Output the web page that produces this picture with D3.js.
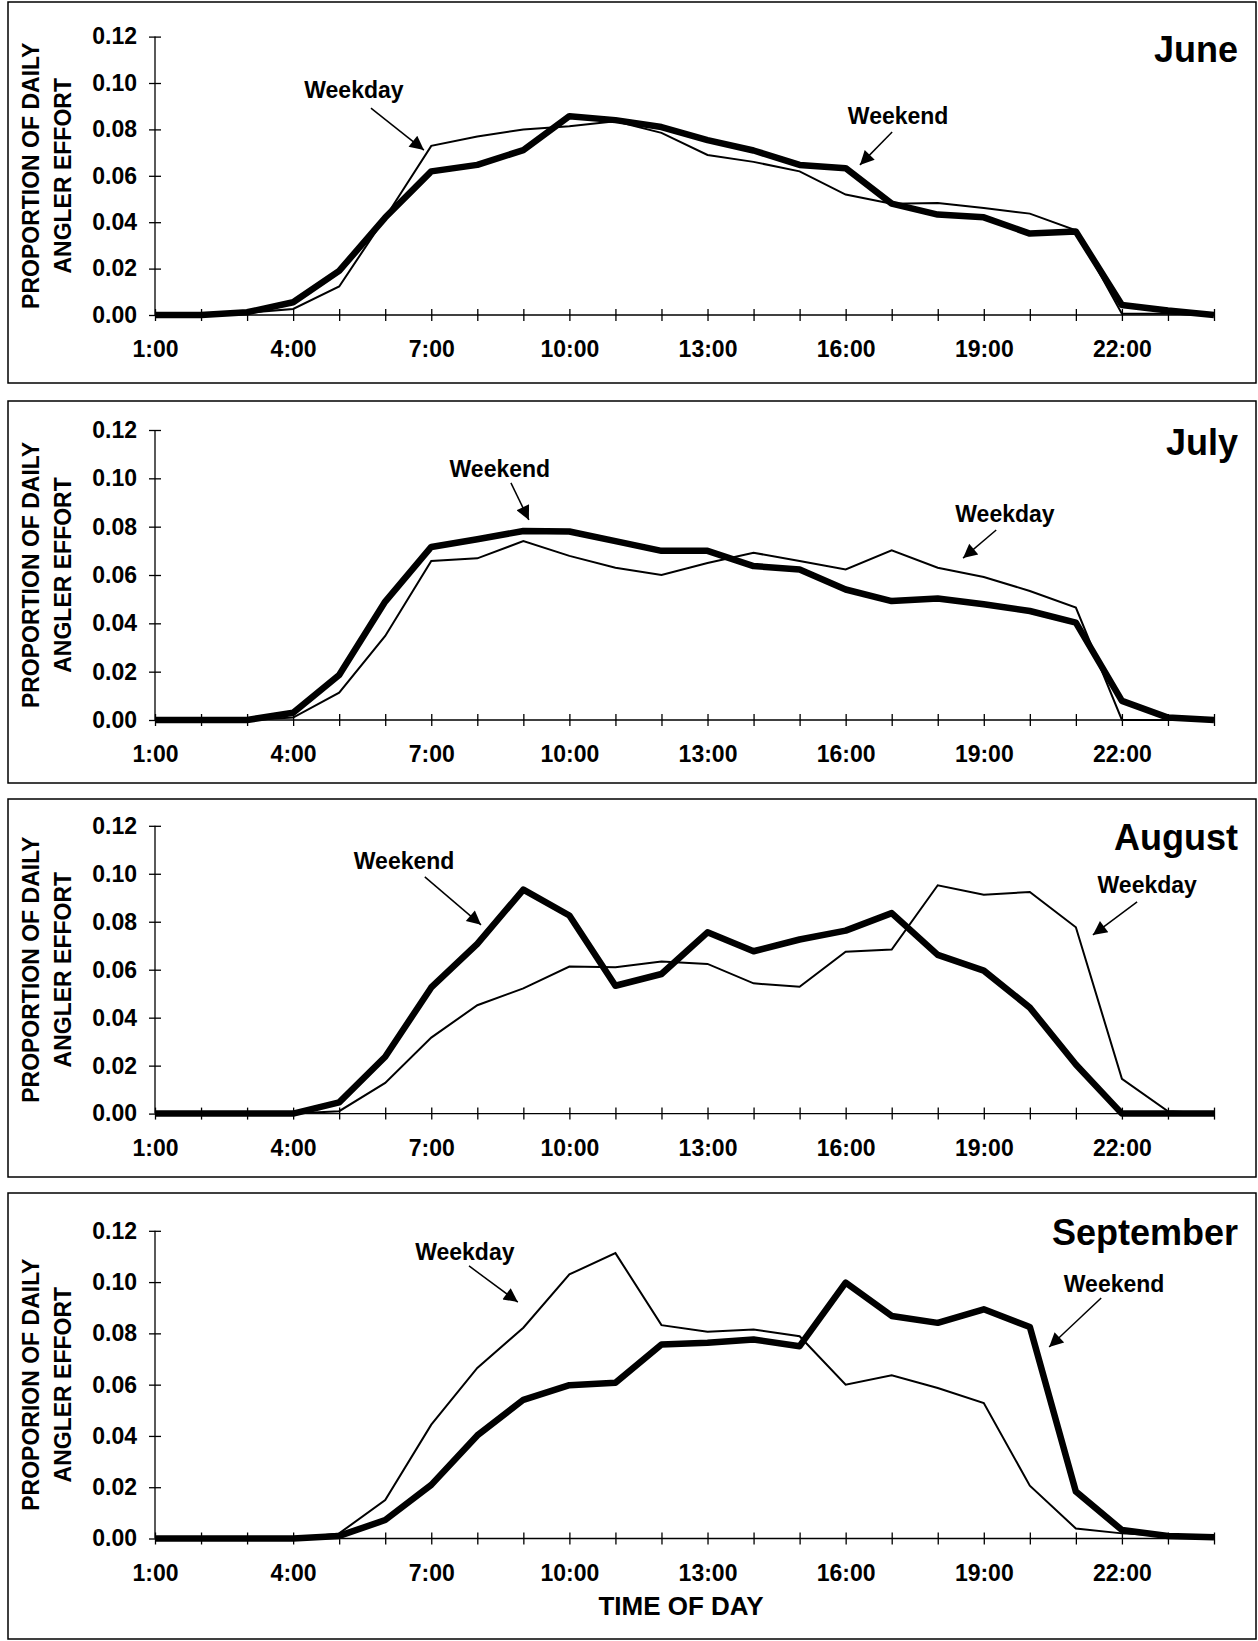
<!DOCTYPE html>
<html>
<head>
<meta charset="utf-8">
<script src="https://cdn.jsdelivr.net/npm/d3@7"></script>
<style>
	body { margin: 0; background: #fff; }
	svg { display: block; font-family: "Liberation Sans", Arial, sans-serif; }
	.tick text { font-weight: bold; }
</style>
</head>
<body>
<div class="container"></div>
<script>
var hours = d3.range(1, 25);
var yTicks = [0, 0.02, 0.04, 0.06, 0.08, 0.10, 0.12];
var months = ['June', 'July', 'August', 'September'];
var axisTitles = ['PROPORTION OF DAILY', 'PROPORTION OF DAILY', 'PROPORTION OF DAILY', 'PROPORION OF DAILY'];

var juneWeekday = [0, 0, 0.001, 0.0026, 0.0123, 0.042, 0.0729, 0.0769, 0.080, 0.0814, 0.0835, 0.0785, 0.069, 0.066, 0.0619, 0.0519, 0.048, 0.0483, 0.0461, 0.0437, 0.0365, 0.0005, 0.0005, 0];
var juneWeekend = [0, 0, 0.0012, 0.0055, 0.019, 0.042, 0.0619, 0.0647, 0.0711, 0.0857, 0.084, 0.081, 0.0754, 0.0709, 0.0647, 0.0633, 0.048, 0.0433, 0.0421, 0.0351, 0.036, 0.0043, 0.0019, 0];

var julyWeekday = [0, 0, 0, 0.001, 0.0113, 0.0348, 0.0658, 0.0669, 0.074, 0.0679, 0.063, 0.060, 0.065, 0.0692, 0.0658, 0.0623, 0.0702, 0.063, 0.0592, 0.0534, 0.0465, 0, 0, 0];
var julyWeekend = [0, 0, 0, 0.003, 0.0186, 0.049, 0.0716, 0.0748, 0.0782, 0.078, 0.074, 0.070, 0.070, 0.0637, 0.0623, 0.054, 0.0492, 0.0503, 0.0479, 0.0451, 0.0403, 0.0079, 0.001, 0];

var augustWeekday = [0, 0, 0, 0, 0.001, 0.0128, 0.0317, 0.0452, 0.0522, 0.0613, 0.061, 0.0634, 0.0624, 0.0543, 0.0529, 0.0675, 0.0684, 0.0952, 0.0913, 0.0924, 0.0777, 0.0145, 0.001, 0];
var augustWeekend = [0, 0, 0, 0, 0.0047, 0.0237, 0.0526, 0.0708, 0.0934, 0.0826, 0.0533, 0.0582, 0.0756, 0.0677, 0.0726, 0.0763, 0.0836, 0.0662, 0.0596, 0.0442, 0.0205, 0, 0, 0];

var septemberWeekday = [0, 0, 0, 0, 0.002, 0.015, 0.0444, 0.0665, 0.0822, 0.103, 0.1113, 0.0832, 0.0806, 0.0815, 0.0789, 0.060, 0.0637, 0.0587, 0.0528, 0.0206, 0.0039, 0.002, 0.001, 0];
var septemberWeekend = [0, 0, 0, 0, 0.001, 0.0072, 0.0209, 0.0402, 0.0541, 0.0598, 0.0607, 0.0757, 0.0763, 0.0776, 0.075, 0.0998, 0.0868, 0.0841, 0.0894, 0.0825, 0.0183, 0.0033, 0.001, 0.0005];

// label text position and arrow start/end, in hour / proportion units
var juneNotes = [
	{ text: 'Weekday', h: 5.32, v: 0.097, h1: 5.69, v1: 0.0892, h2: 6.84, v2: 0.0711 },
	{ text: 'Weekend', h: 17.14, v: 0.0858, h1: 17.01, v1: 0.0789, h2: 16.31, v2: 0.0647 }
];
var julyNotes = [
	{ text: 'Weekend', h: 8.49, v: 0.1039, h1: 8.73, v1: 0.0981, h2: 9.12, v2: 0.0828 },
	{ text: 'Weekday', h: 19.46, v: 0.0852, h1: 19.27, v1: 0.0786, h2: 18.55, v2: 0.067 }
];
var augustNotes = [
	{ text: 'Weekend', h: 6.41, v: 0.1053, h1: 6.86, v1: 0.0987, h2: 8.08, v2: 0.0787 },
	{ text: 'Weekday', h: 22.55, v: 0.0953, h1: 22.33, v1: 0.0883, h2: 21.37, v2: 0.0745 }
];
var septemberNotes = [
	{ text: 'Weekday', h: 7.73, v: 0.1117, h1: 7.82, v1: 0.1063, h2: 8.88, v2: 0.0922 },
	{ text: 'Weekend', h: 21.83, v: 0.0993, h1: 21.55, v1: 0.0938, h2: 20.42, v2: 0.0747 }
];

var panels = [
	{ month: months[0], weekday: juneWeekday, weekend: juneWeekend, notes: juneNotes, axisTitle: axisTitles[0],
		frameTop: 2, frameBottom: 383, yTop: 36.6, yBottom: 315, titleY: 49 },
	{ month: months[1], weekday: julyWeekday, weekend: julyWeekend, notes: julyNotes, axisTitle: axisTitles[1],
		frameTop: 401, frameBottom: 783, yTop: 430, yBottom: 720, titleY: 442 },
	{ month: months[2], weekday: augustWeekday, weekend: augustWeekend, notes: augustNotes, axisTitle: axisTitles[2],
		frameTop: 799, frameBottom: 1177, yTop: 825.8, yBottom: 1113.6, titleY: 837 },
	{ month: months[3], weekday: septemberWeekday, weekend: septemberWeekend, notes: septemberNotes, axisTitle: axisTitles[3],
		frameTop: 1193, frameBottom: 1639, yTop: 1230.8, yBottom: 1538.5, titleY: 1232 }
];

var svg = d3.select('.container')
	.append('svg')
	.attr('width', 1258)
	.attr('height', 1641);

svg.append('defs')
	.append('marker')
	.attr('id', 'arrow')
	.attr('viewBox', '0 0 10 10')
	.attr('refX', 10)
	.attr('refY', 5)
	.attr('markerUnits', 'userSpaceOnUse')
	.attr('markerWidth', 17)
	.attr('markerHeight', 14)
	.attr('orient', 'auto')
	.append('path')
	.attr('d', 'M0,0L10,5L0,10Z')
	.attr('fill', '#000');

var x = d3.scalePoint()
	.domain(hours)
	.range([155, 1214]);

panels.forEach(function(p) {
	var g = svg.append('g');

	g.append('rect')
		.attr('x', 8)
		.attr('y', p.frameTop)
		.attr('width', 1248)
		.attr('height', p.frameBottom - p.frameTop)
		.attr('fill', 'none')
		.attr('stroke', '#000')
		.attr('stroke-width', 1.5);

	var y = d3.scaleLinear()
		.domain([0, 0.12])
		.range([p.yBottom, p.yTop]);

	var xAxis = g.append('g')
		.attr('transform', 'translate(0,' + p.yBottom + ')')
		.call(d3.axisBottom(x)
			.tickValues(hours)
			.tickSize(6)
			.tickPadding(20)
			.tickFormat(function(h) { return (h - 1) % 3 === 0 ? h + ':00' : ''; }));
	xAxis.select('.domain').attr('d', 'M155,0H1214');
	xAxis.selectAll('.tick line').attr('y1', -6);
	xAxis.selectAll('.tick text').attr('font-size', 23).attr('fill', '#000');

	var yAxis = g.append('g')
		.attr('transform', 'translate(155,0)')
		.call(d3.axisLeft(y)
			.tickValues(yTicks)
			.tickSize(6)
			.tickPadding(12)
			.tickFormat(d3.format('.2f')));
	yAxis.select('.domain').attr('d', 'M0,' + p.yBottom + 'V' + p.yTop);
	yAxis.selectAll('.tick line').attr('x1', 6);
	yAxis.selectAll('.tick text').attr('font-size', 23).attr('fill', '#000');

	g.selectAll('.domain, .tick line').attr('stroke', '#000').attr('stroke-width', 1.3);

	var mid = (p.yTop + p.yBottom) / 2;
	g.append('text')
		.attr('transform', 'translate(31,' + mid + ') rotate(-90)')
		.attr('text-anchor', 'middle')
		.attr('dominant-baseline', 'central')
		.attr('font-size', 23)
		.attr('font-weight', 'bold')
		.text(p.axisTitle);
	g.append('text')
		.attr('transform', 'translate(63,' + mid + ') rotate(-90)')
		.attr('text-anchor', 'middle')
		.attr('dominant-baseline', 'central')
		.attr('font-size', 23)
		.attr('font-weight', 'bold')
		.text('ANGLER EFFORT');

	g.append('text')
		.attr('x', 1238)
		.attr('y', p.titleY)
		.attr('text-anchor', 'end')
		.attr('dominant-baseline', 'central')
		.attr('font-size', 36)
		.attr('font-weight', 'bold')
		.text(p.month);

	var line = d3.line()
		.x(function(d, i) { return x(hours[i]); })
		.y(function(d) { return y(d); });

	g.append('path')
		.datum(p.weekday)
		.attr('d', line)
		.attr('fill', 'none')
		.attr('stroke', '#000')
		.attr('stroke-width', 2);

	g.append('path')
		.datum(p.weekend)
		.attr('d', line)
		.attr('fill', 'none')
		.attr('stroke', '#000')
		.attr('stroke-width', 6.5)
		.attr('stroke-linejoin', 'round');

	var hx = d3.scaleLinear().domain([1, 24]).range(x.range());

	p.notes.forEach(function(n) {
		g.append('text')
			.attr('x', hx(n.h))
			.attr('y', y(n.v))
			.attr('text-anchor', 'middle')
			.attr('dominant-baseline', 'central')
			.attr('font-size', 23)
			.attr('font-weight', 'bold')
			.text(n.text);

		g.append('line')
			.attr('x1', hx(n.h1))
			.attr('y1', y(n.v1))
			.attr('x2', hx(n.h2))
			.attr('y2', y(n.v2))
			.attr('stroke', '#000')
			.attr('stroke-width', 1.5)
			.attr('marker-end', 'url(#arrow)');
	});
});

svg.append('text')
	.attr('x', 681)
	.attr('y', 1606)
	.attr('text-anchor', 'middle')
	.attr('dominant-baseline', 'central')
	.attr('font-size', 26)
	.attr('font-weight', 'bold')
	.text('TIME OF DAY');
</script>
</body>
</html>
